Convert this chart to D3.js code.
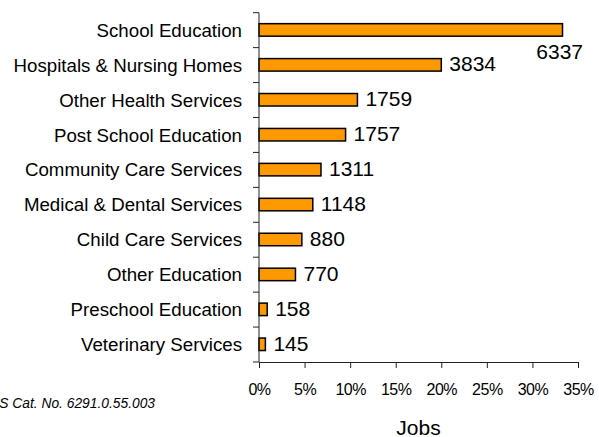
<!DOCTYPE html>
<html>
<head>
<meta charset="utf-8">
<script src="https://cdn.jsdelivr.net/npm/d3@7"></script>
<style>
  body { margin: 0; background: #fff; }
  svg { display: block; font-family: "Liberation Sans", Arial, sans-serif; }
</style>
</head>
<body>
<div id="chart-container"></div>
<script>
// Industries, top to bottom
const categories = [
  "School Education",
  "Hospitals & Nursing Homes",
  "Other Health Services",
  "Post School Education",
  "Community Care Services",
  "Medical & Dental Services",
  "Child Care Services",
  "Other Education",
  "Preschool Education",
  "Veterinary Services"
];
// Share of jobs (%)
const shares = [33.3, 20.0, 10.8, 9.5, 6.8, 5.9, 4.7, 4.0, 0.9, 0.7];
// Job counts shown as labels
const jobs = [6337, 3834, 1759, 1757, 1311, 1148, 880, 770, 158, 145];
const tickValues = [0, 5, 10, 15, 20, 25, 30, 35];

const W = 599, H = 437;
const margin = { top: 12.7, right: 21, bottom: 75, left: 259 };
const width = W - margin.left - margin.right;
const height = H - margin.top - margin.bottom;

const dataset = categories.map((c, i) => ({ title: c, share: shares[i], count: jobs[i] }));

const svg = d3.select("#chart-container")
  .append("svg")
  .attr("width", W)
  .attr("height", H);

const g = svg.append("g")
  .attr("transform", `translate(${margin.left},${margin.top})`);

const x = d3.scaleLinear().domain([0, 35]).range([0, width]);
const y = d3.scaleBand().domain(categories).range([0, height]).paddingInner(0).paddingOuter(0);

// Bars
g.selectAll(".bar")
  .data(dataset)
  .enter().append("rect")
  .attr("class", "bar")
  .attr("x", 0)
  .attr("y", d => y(d.title) + y.bandwidth() / 2 - 6.5)
  .attr("width", d => x(d.share))
  .attr("height", 12.5)
  .attr("fill", "#FF9900")
  .attr("stroke", "#000")
  .attr("stroke-width", 1.5);

// Y axis: line plus ticks at band boundaries
g.append("line")
  .attr("x1", 0).attr("x2", 0)
  .attr("y1", 0).attr("y2", height)
  .attr("stroke", "#222");

g.selectAll(".ytick")
  .data(d3.range(categories.length + 1))
  .enter().append("line")
  .attr("x1", -6).attr("x2", 0)
  .attr("y1", i => i * y.step())
  .attr("y2", i => i * y.step())
  .attr("stroke", "#222");

// Category labels
g.selectAll(".cat")
  .data(dataset)
  .enter().append("text")
  .attr("x", -17)
  .attr("y", d => y(d.title) + y.bandwidth() / 2 + 6.6)
  .attr("text-anchor", "end")
  .style("font-size", "18.7px")
  .style("fill", "#000")
  .text(d => d.title);

// X axis
const xAxis = g.append("g")
  .attr("transform", `translate(0,${height})`)
  .call(d3.axisBottom(x).tickValues(tickValues).tickSize(6).tickPadding(16).tickFormat(d => d + "%"));
xAxis.select(".domain").attr("stroke", "#222");
xAxis.selectAll(".tick line").attr("stroke", "#222");
xAxis.selectAll(".tick text")
  .attr("fill", "#000")
  .style("font-size", "16px")
  .style("font-family", "'Liberation Sans', Arial, sans-serif")
  .style("letter-spacing", "-0.5px");

// Value labels; the one that would overflow is pushed below its bar
const limit = W - 14;
g.selectAll(".val")
  .data(dataset)
  .enter().append("text")
  .attr("class", "val")
  .style("font-size", "21px")
  .style("fill", "#000")
  .text(d => d.count)
  .each(function(d) {
    const t = d3.select(this);
    const w = this.getComputedTextLength();
    const cx = y(d.title) + y.bandwidth() / 2;
    if (margin.left + x(d.share) + 8 + w > limit) {
      t.attr("x", x(35) + 5).attr("text-anchor", "end").attr("y", cx + 29);
    } else {
      t.attr("x", x(d.share) + 8).attr("y", cx + 6);
    }
  });

// Axis title
svg.append("text")
  .attr("x", margin.left + width / 2)
  .attr("y", 434.5)
  .attr("text-anchor", "middle")
  .style("font-size", "21px")
  .text("Jobs");

// Source note (clipped on the left, as in the original)
svg.append("text")
  .attr("x", 155)
  .attr("y", 408)
  .attr("text-anchor", "end")
  .style("font-size", "13.8px")
  .style("font-style", "italic")
  .text("Source: ABS Cat. No. 6291.0.55.003");
</script>
</body>
</html>
